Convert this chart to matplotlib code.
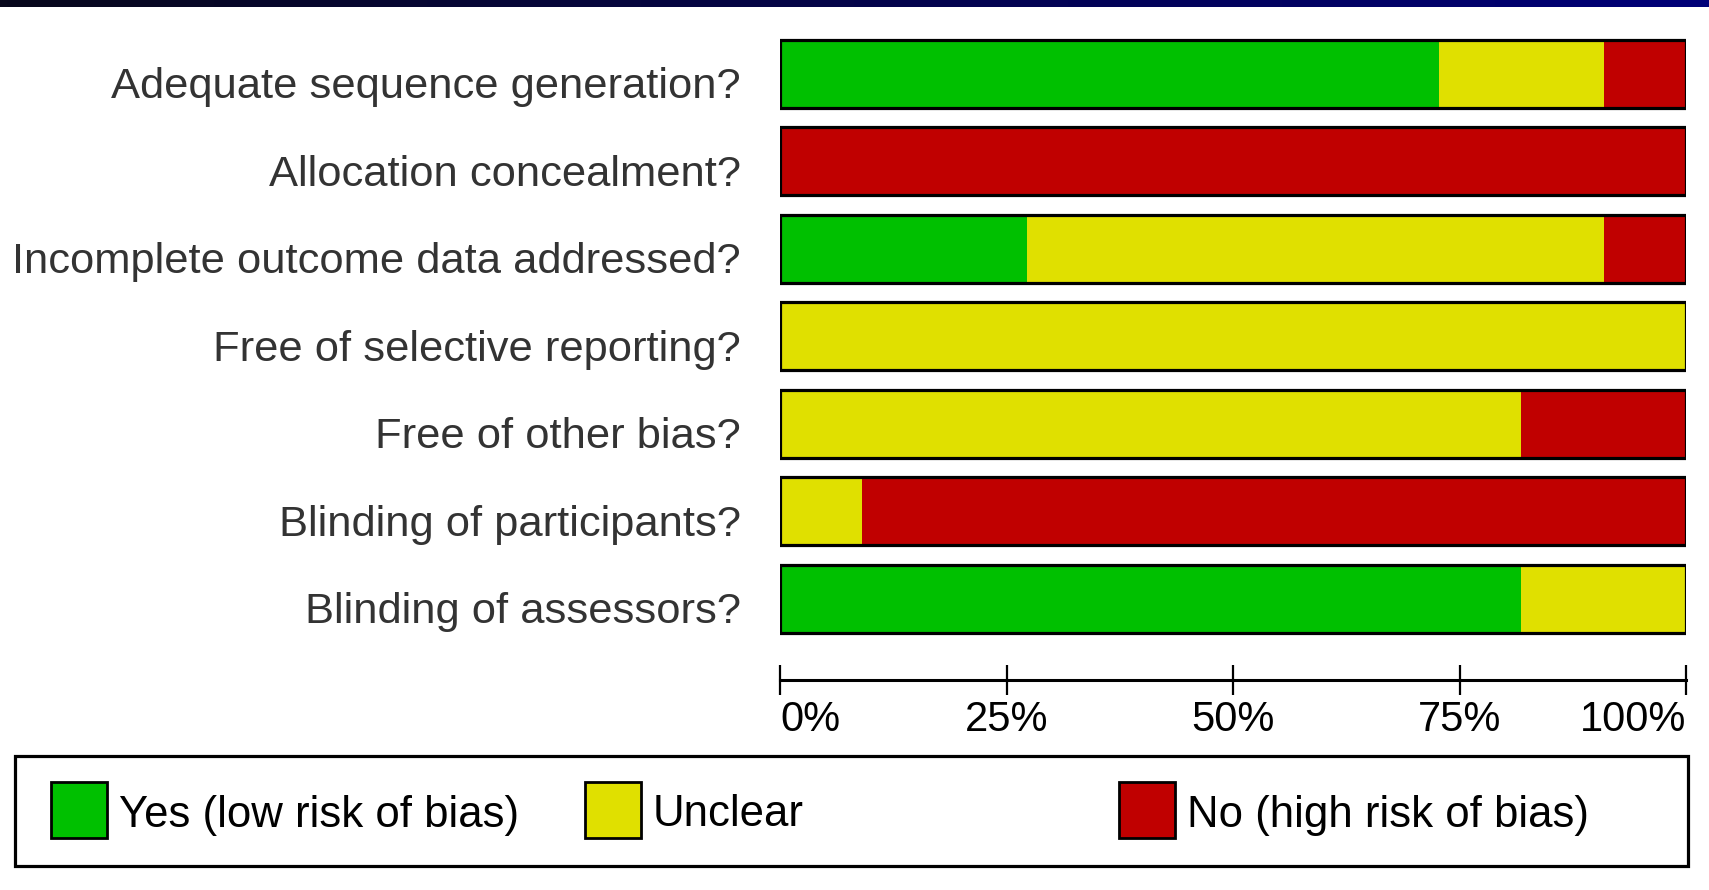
import numpy as np
import matplotlib
matplotlib.use("Agg")
import matplotlib.pyplot as plt
import matplotlib.colors as mcolors
import matplotlib.transforms as mtransforms
from matplotlib.patches import Rectangle

# risk of bias summary, percent of studies
domains = ['Adequate sequence generation?', 'Allocation concealment?',
           'Incomplete outcome data addressed?', 'Free of selective reporting?',
           'Free of other bias?', 'Blinding of participants?', 'Blinding of assessors?']
yes_pct = [72.7, 0.0, 27.3, 0.0, 0.0, 0.0, 81.8]
unclear_pct = [18.2, 0.0, 63.6, 100.0, 81.8, 9.1, 18.2]
no_pct = [9.1, 100.0, 9.1, 0.0, 18.2, 90.9, 0.0]

tick_vals = [0, 25, 50, 75, 100]
tick_labels = ['0%', '25%', '50%', '75%', '100%']
legend_labels = ['Yes (low risk of bias)', 'Unclear', 'No (high risk of bias)']

green = '#00C000'
yellow = '#E0E000'
red = '#C00000'

plt.rcParams['font.family'] = ['Liberation Sans', 'DejaVu Sans']

W, H = 1709, 890
fig = plt.figure(figsize=(W/100, H/100), dpi=100)
fig.patch.set_facecolor('white')

#top gradient band
band = fig.add_axes([0, 1-7/H, 1, 7/H])
cm = mcolors.LinearSegmentedColormap.from_list('band', ['#08081c', '#000078'])
band.imshow(np.linspace(0, 1, 256)[None, :], aspect='auto', cmap=cm, extent=[0, 1, 0, 1])
band.axis('off')

#main bars
ax = fig.add_axes([780/W, 1-680/H, (1686-780)/W, 650/H])
y = np.arange(len(domains))
yes = np.array(yes_pct)
unc = np.array(unclear_pct)
no = np.array(no_pct)
bh = 0.78
ax.barh(y, yes, height=bh, color=green, linewidth=0)
ax.barh(y, unc, left=yes, height=bh, color=yellow, linewidth=0)
ax.barh(y, no, left=yes+unc, height=bh, color=red, linewidth=0)
ax.barh(y, yes+unc+no, height=bh, fill=False, edgecolor='black', linewidth=2.3)

ax.set_xlim(0, 100)
ax.set_ylim(6.93, -0.5)
ax.set_yticks(y)
ax.set_yticklabels(domains, fontsize=31.3, color='#333333')
ax.tick_params(axis='y', length=0, pad=28)
shift = mtransforms.ScaledTranslation(0, -9/100, fig.dpi_scale_trans)
for t in ax.get_yticklabels():
    t.set_transform(t.get_transform() + shift)

ax.set_xticks(tick_vals)
ax.set_xticklabels(tick_labels, fontsize=30, color='black')
ax.tick_params(axis='x', direction='inout', length=21, width=1.6, pad=4)
xl = ax.get_xticklabels()
xl[0].set_ha('left')
xl[-1].set_ha('right')
for s in ['left', 'right', 'top']:
    ax.spines[s].set_visible(False)
ax.spines['bottom'].set_linewidth(2.2)

#legend box drawn by hand
lg = fig.add_axes([0, 0, 1, 1], facecolor='none')
lg.set_xlim(0, W)
lg.set_ylim(H, 0)
lg.axis('off')
lg.add_patch(Rectangle((15, 756), 1673, 110, fill=False, edgecolor='black', linewidth=2.3))
patch_x = [51, 585, 1119]
for px, col, lab in zip(patch_x, [green, yellow, red], legend_labels):
    lg.add_patch(Rectangle((px, 782), 56, 56, facecolor=col, edgecolor='black', linewidth=2.0))
    lg.text(px+68, 815, lab, fontsize=31.5, va='center', ha='left', color='black')

fig.savefig('out.png', dpi=100)
